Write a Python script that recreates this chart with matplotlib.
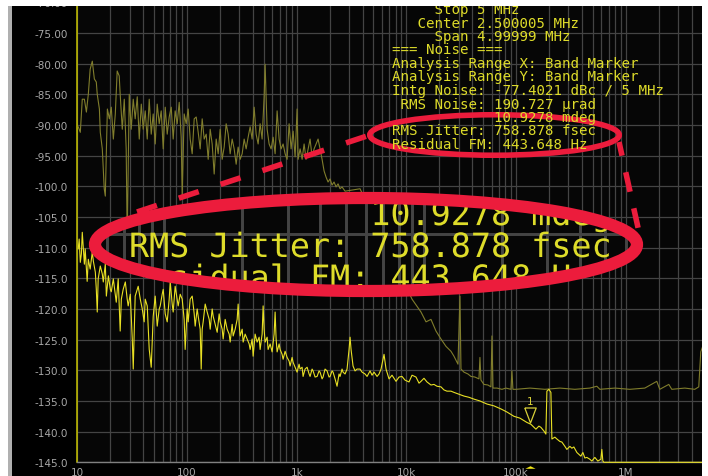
import matplotlib
matplotlib.use('Agg')
import matplotlib.pyplot as plt
from matplotlib.patches import Ellipse, Rectangle, PathPatch
from matplotlib.ticker import FixedLocator, LogLocator, NullFormatter
from matplotlib.textpath import TextPath
from matplotlib.font_manager import FontProperties
import matplotlib.transforms as mtransforms
import numpy as np

plt.rcParams['lines.scale_dashes'] = False

# ---------------- data ----------------
x_ticks = [10, 100, 1e3, 1e4, 1e5, 1e6]
x_tick_labels = ['10', '100', '1k', '10k', '100k', '1M']
y_ticks = [-145, -140, -135, -130, -125, -120, -115, -110, -105, -100,
           -95, -90, -85, -80, -75, -70]
y_tick_labels = ['-145.0', '-140.0', '-135.0', '-130.0', '-125.0', '-120.0',
                 '-115.0', '-110.0', '-105.0', '-100.0', '-95.00', '-90.00',
                 '-85.00', '-80.00', '-75.00', '-70.00']

# dim (reference) trace: (frequency Hz, dBc/Hz)
dim_points = [
    (10.2, -90.3), (10.65, -91.2), (11.1, -85.8), (11.6, -85.8), (12.1, -87.9),
    (12.6, -85.0), (13.1, -80.9), (13.7, -79.6), (14.3, -82.5), (14.9, -83.0),
    (15.2, -85.0), (15.9, -87.4), (16.2, -91.2), (16.9, -93.9), (17.6, -100.4),
    (18.0, -101.6), (18.8, -87.4), (19.6, -89.0), (20.4, -87.1), (21.3, -92.3),
    (22.2, -88.2), (23.1, -81.2), (24.1, -82.0), (24.6, -85.0), (25.7, -90.7),
    (26.8, -85.8), (27.9, -93.9), (28.5, -108.6), (29.75, -85.0), (31.0, -90.7),
    (32.35, -85.8), (33.7, -89.0), (35.2, -85.4), (36.7, -92.3), (38.3, -86.6),
    (39.9, -90.7), (41.6, -87.7), (43.4, -92.3), (45.25, -85.8), (47.2, -91.5),
    (49.2, -88.2), (51.3, -93.1), (53.5, -86.6), (55.8, -89.8), (58.2, -87.7),
    (60.7, -93.9), (63.3, -87.1), (66.0, -91.5), (68.8, -88.7), (71.8, -87.1),
    (74.8, -92.3), (78.0, -87.7), (81.4, -89.8), (84.9, -86.3), (88.5, -92.0),
    (90.4, -101.6), (94.2, -88.2), (98.3, -89.8), (102.5, -87.4), (106.9, -92.3),
    (111.5, -94.7), (116.3, -89.0), (121.3, -88.7), (126.5, -91.2), (131.9, -93.9),
    (137.5, -89.0), (143.4, -92.3), (149.6, -91.5), (156.0, -95.6), (162.7, -90.7),
    (169.6, -93.1), (176.9, -98.0), (184.5, -92.3), (192.4, -94.7), (200.6, -90.7),
    (209.2, -95.6), (218.2, -93.6), (227.5, -89.8), (237.3, -91.5), (247.4, -94.7),
    (258.0, -92.3), (269.1, -93.9), (280.6, -96.4), (292.6, -93.6), (305.1, -95.6),
    (318.2, -94.7), (331.8, -92.3), (346.0, -93.9), (360.8, -92.0), (376.3, -90.3),
    (392.4, -92.3), (409.2, -87.1), (426.7, -91.5), (445.0, -93.1), (464.0, -89.8),
    (483.9, -92.3), (504.6, -85.4), (515.3, -80.1), (537.4, -90.7), (560.4, -93.1),
    (584.4, -93.9), (609.5, -92.0), (635.6, -94.7), (662.8, -87.7), (691.2, -92.3),
    (720.8, -93.9), (751.7, -93.1), (783.9, -94.7), (817.5, -95.6), (852.5, -89.8),
    (889.0, -93.9), (927.1, -91.0), (966.9, -95.2), (1008, -87.4), (1030, -95.6),
    (1074, -93.9), (1120, -95.6), (1168, -93.1), (1218, -95.6), (1270, -93.9),
    (1324, -92.3), (1381, -95.2), (1440, -93.9), (1502, -93.1), (1566, -92.3),
    (1633, -93.9), (1703, -95.6), (1776, -97.5), (1852, -98.5), (1931, -99.3),
    (2014, -98.8), (2100, -99.8), (2190, -99.3), (2284, -100.1), (2382, -99.6),
    (2484, -100.4), (2590, -100.1), (2759, -100.8), (3778, -100.4),
    (11250, -118.4), (13580, -120.5), (15090, -122.1), (16750, -121.7),
    (18600, -123.6), (20660, -124.9), (22950, -126.1), (25480, -126.9),
    (27130, -127.7), (29510, -129.0), (30780, -117.9), (31430, -129.8),
    (33460, -130.3), (36390, -130.6), (38770, -131.0), (42140, -131.1),
    (45840, -131.4), (46810, -127.9), (47800, -131.6), (50900, -132.3),
    (55380, -132.4), (58950, -132.7), (60230, -124.4), (61500, -132.9),
    (66890, -132.9), (74270, -133.1), (80760, -132.9), (89700, -133.1),
    (91580, -130.1), (93500, -133.1), (99590, -133.1), (133600, -132.9),
    (182900, -133.1), (250600, -132.9), (343200, -133.1), (470000, -132.9),
    (544400, -132.6), (579800, -133.1), (794000, -132.9), (1088000, -133.1),
    (1490000, -132.9), (1916000, -131.8), (2040000, -133.1), (2464000, -132.3),
    (2624000, -133.1), (3446000, -132.9), (4251000, -133.1), (4623000, -132.7),
    (4821000, -127.0), (5000000, -126.2),
]

# bright (measured) trace: (frequency Hz, dBc/Hz)
bright_points = [
    (10.2, -110.2), (10.4, -108.6), (10.65, -112.4), (10.9, -111.0), (11.1, -107.5),
    (11.3, -109.7), (11.6, -112.7), (11.8, -110.2), (12.3, -115.5), (12.6, -111.9),
    (13.1, -113.5), (13.7, -110.7), (14.0, -112.2), (14.6, -114.0), (14.9, -116.8),
    (15.2, -120.5), (15.5, -115.1), (16.2, -113.0), (16.9, -114.3), (17.25, -115.6),
    (18.0, -112.7), (18.4, -117.9), (19.2, -114.6), (20.0, -116.8), (20.4, -117.2),
    (21.3, -115.1), (22.2, -117.6), (22.65, -118.9), (23.6, -115.1), (24.6, -123.6),
    (25.2, -118.4), (26.2, -116.8), (27.4, -115.6), (28.5, -118.4), (29.1, -119.5),
    (30.4, -117.6), (31.7, -124.9), (32.35, -129.8), (33.7, -117.9), (35.2, -116.8),
    (35.9, -116.3), (37.5, -118.4), (39.1, -120.0), (40.7, -122.1), (41.6, -118.4),
    (43.4, -119.5), (45.25, -126.6), (47.2, -129.5), (49.2, -121.2), (51.3, -117.9),
    (53.5, -122.8), (55.8, -120.0), (57.0, -119.5), (59.4, -117.6), (60.7, -116.8),
    (63.3, -120.8), (66.0, -122.1), (68.8, -118.4), (70.3, -115.6), (73.3, -119.2),
    (74.8, -120.5), (78.0, -116.3), (81.4, -118.4), (83.1, -119.5), (86.7, -117.6),
    (90.4, -118.4), (94.2, -121.7), (96.2, -126.6), (100.4, -120.0), (102.5, -122.1),
    (106.9, -118.4), (111.5, -117.9), (116.3, -120.8), (118.7, -122.8), (123.8, -120.0),
    (126.5, -121.2), (131.9, -123.3), (134.7, -129.8), (137.5, -123.3), (140.4, -122.1),
    (146.5, -119.2), (152.7, -120.5), (159.3, -121.7), (162.7, -123.3), (169.6, -120.0),
    (173.2, -121.2), (180.6, -122.5), (188.4, -123.8), (196.4, -120.8), (200.6, -122.1),
    (209.2, -123.3), (213.6, -124.9), (222.8, -121.7), (232.3, -123.3), (242.3, -124.1),
    (247.4, -125.4), (258.0, -122.5), (263.5, -124.4), (274.8, -123.3), (286.5, -121.7),
    (292.6, -119.2), (298.8, -122.5), (305.1, -124.4), (318.2, -123.3), (324.9, -125.4),
    (338.8, -124.1), (353.3, -124.9), (368.5, -125.7), (376.3, -126.6), (392.4, -124.9),
    (400.7, -127.7), (417.8, -124.1), (435.7, -125.4), (454.4, -124.6), (464.0, -126.6),
    (483.9, -124.1), (494.2, -119.5), (504.6, -123.3), (515.3, -125.4), (537.4, -124.6),
    (548.8, -126.6), (572.3, -125.7), (596.8, -127.0), (622.4, -124.1), (635.6, -120.5),
    (649.0, -124.9), (662.8, -127.0), (691.2, -125.7), (705.8, -126.6), (736.1, -127.4),
    (751.7, -128.2), (783.9, -126.9), (817.5, -127.9), (852.5, -128.5), (870.6, -129.3),
    (907.9, -127.9), (927.1, -128.7), (966.9, -129.5), (1008, -130.3), (1051, -129.0),
    (1074, -129.8), (1120, -129.5), (1143, -131.0), (1192, -129.8), (1244, -129.5),
    (1297, -130.6), (1324, -131.0), (1381, -129.8), (1410, -130.1), (1471, -131.1),
    (1534, -131.0), (1599, -130.1), (1633, -130.3), (1703, -131.4), (1739, -131.1),
    (1813, -129.8), (1891, -130.1), (1972, -131.1), (2014, -131.0), (2100, -130.1),
    (2145, -130.3), (2237, -131.4), (2332, -132.6), (2432, -130.6), (2484, -131.0),
    (2590, -129.8), (2645, -130.3), (2759, -130.6), (2877, -129.8), (3000, -126.6),
    (3064, -124.6), (3129, -126.6), (3262, -129.3), (3402, -130.1), (3548, -129.8),
    (3778, -129.8), (3940, -130.3), (4198, -130.6), (4377, -131.0), (4662, -130.1),
    (4862, -130.8), (5070, -130.3), (5399, -131.0), (5630, -130.6), (5871, -129.8),
    (6252, -127.4), (6520, -129.8), (6942, -131.4), (7393, -130.8), (8039, -131.8),
    (8561, -131.1), (9118, -131.0), (9711, -131.6), (10560, -131.9), (11250, -130.8),
    (12230, -131.1), (13030, -132.1), (13580, -131.8), (14460, -131.3), (15400, -131.9),
    (16750, -132.4), (17840, -132.3), (19000, -132.6), (20660, -132.7), (22000, -133.2),
    (23430, -133.4), (25480, -133.4), (27130, -133.6), (30140, -133.9), (33460, -134.2),
    (37160, -134.4), (41280, -134.7), (46810, -135.0), (54230, -135.5), (62810, -135.8),
    (72740, -136.3), (82480, -136.8), (95500, -137.5), (108300, -137.8), (125400, -138.5),
    (136400, -138.8), (151500, -139.6), (161300, -139.1), (168200, -139.3), (179200, -139.9),
    (186800, -140.4), (190800, -133.4), (199000, -133.1), (207500, -133.6), (211900, -141.2),
    (225600, -140.9), (235300, -141.2), (250600, -141.6), (261400, -141.7), (278400, -142.4),
    (290200, -142.9), (309000, -142.4), (322300, -142.7), (336000, -142.5), (358000, -143.4),
    (373300, -143.7), (389300, -144.0), (406000, -143.4), (423300, -144.3), (441400, -144.2),
    (470000, -144.5), (490100, -144.8), (522000, -144.2), (555900, -144.8), (592000, -144.5),
    (604600, -142.9), (617400, -144.8), (630400, -145.0), (714900, -145.0), (881800, -145.0),
    (1342000, -145.0), (2040000, -145.0), (3103000, -145.0), (5000000, -145.0),
]

marker_freq = 133600
marker_db = -138.45
marker_label = '1'

info_lines = [
    '     Stop 5 MHz',
    '   Center 2.500005 MHz',
    '     Span 4.99999 MHz',
    '=== Noise ===',
    'Analysis Range X: Band Marker',
    'Analysis Range Y: Band Marker',
    'Intg Noise: -77.4021 dBc / 5 MHz',
    ' RMS Noise: 190.727 \u00b5rad',
    '            10.9278 mdeg',
    'RMS Jitter: 758.878 fsec',
    'Residual FM: 443.648 Hz',
]
zoom_lines = info_lines[8:11]

# ---------------- style ----------------
W, H = 708, 477
YEL_TXT = '#dedc2a'
BRIGHT = '#e8e024'
DIM = '#807d2c'
RED = '#ec1c3c'
GRID = '#444444'
LBL = '#a8a8a8'
MONO = 'DejaVu Sans Mono'

AX_L, AX_R, AX_T, AX_B = 77.3, 702.5, 3.3, 463.3
F0, F1, V0, V1 = 10.0, 5e6, -145.0, -70.0

fig = plt.figure(figsize=(W / 100, H / 100), dpi=100, facecolor='black')

ax = fig.add_axes([AX_L / W, (H - AX_B) / H, (AX_R - AX_L) / W, (AX_B - AX_T) / H])
ax.set_facecolor('#060606')
ax.set_xscale('log')
ax.set_xlim(F0, F1)
ax.set_ylim(V0, V1)
ax.xaxis.set_major_locator(FixedLocator(x_ticks))
ax.xaxis.set_minor_locator(LogLocator(base=10, subs=np.arange(2, 10), numticks=100))
ax.xaxis.set_minor_formatter(NullFormatter())
ax.set_xticklabels(x_tick_labels)
ax.set_yticks(y_ticks)
ax.set_yticklabels(y_tick_labels)
ax.tick_params(which='both', length=0, colors=LBL, labelsize=7.5)
ax.tick_params(axis='x', pad=3.5)
ax.tick_params(axis='y', pad=7)
ax.grid(True, which='both', color=GRID, lw=0.9)
ax.set_axisbelow(True)
for s in ('top', 'right'):
    ax.spines[s].set_visible(False)
ax.spines['left'].set_color('#c8c400')
ax.spines['left'].set_linewidth(1.1)
ax.spines['bottom'].set_color('#808080')
ax.spines['bottom'].set_linewidth(1.0)

df, dv = zip(*dim_points)
bf, bv = zip(*bright_points)
ax.plot(df, dv, color=DIM, lw=0.8, zorder=3)
ax.plot(bf, bv, color=BRIGHT, lw=0.8, zorder=4, clip_on=False)

# band marker
tri_down = [(-0.38, 0.5), (0.38, 0.5), (0.0, -0.5), (-0.38, 0.5)]
off_up = mtransforms.ScaledTranslation(0, 7.5 / 100, fig.dpi_scale_trans)
ax.plot([marker_freq], [marker_db], marker=tri_down, ms=10.8, mfc='none',
        mec='#d8d038', mew=0.9, transform=ax.transData + off_up, zorder=5)
ax.annotate(marker_label, xy=(marker_freq, marker_db), xytext=(0, 15.3),
            textcoords='offset points', ha='center', va='center',
            fontsize=7.5, color='#d8d038', zorder=5)
tri_up = [(-1, -0.25), (1, -0.25), (0, 0.25), (-1, -0.25)]
off_dn = mtransforms.ScaledTranslation(0, -4.3 / 100, fig.dpi_scale_trans)
ax.plot([marker_freq], [V0], marker=tri_up, ms=7.4, mfc='#f4e818', mec='#f4e818',
        mew=0, transform=ax.transData + off_dn, clip_on=False, zorder=6)

# ---------------- overlay 1: info text, small ellipse, dashes ----------------
ov1 = fig.add_axes([0, 0, 1, 1])
ov1.set_xlim(0, W)
ov1.set_ylim(H, 0)
ov1.axis('off')

X0, BASE0, LSP, FS = 391.5, 14.0, 13.5, 10.17
for i, line in enumerate(info_lines):
    ov1.text(X0, BASE0 + LSP * i, line, family=MONO, fontsize=FS, color=YEL_TXT,
             ha='left', va='baseline')

ov1.add_patch(Ellipse((494.5, 136.0), 249.5, 40.5, fill=False, ec=RED, lw=4.0))
ov1.plot([137, 367], [213, 137], color=RED, lw=4.0, dash_capstyle='butt',
         linestyle=(0, (15.1, 16.6)))
ov1.plot([619, 639], [143, 233], color=RED, lw=4.0, dash_capstyle='butt',
         linestyle=(4.3, (14.4, 12.2)))

# ---------------- inset: magnified view ----------------
S = 20.1 / 8.5            # magnification
BX0, BY0 = 129.0, 258.0   # big text origin (pixel) <-> small text origin
SX0, SY0 = X0, 135.5

def to_orig(Xp, Yp):
    return SX0 + (Xp - BX0) / S, SY0 + (Yp - BY0) / S

def px_to_data(xp, yp):
    lf = np.log10(F0) + (xp - AX_L) / (AX_R - AX_L) * (np.log10(F1) - np.log10(F0))
    v = V1 - (yp - AX_T) / (AX_B - AX_T) * (V1 - V0)
    return 10 ** lf, v

EC = (366.0, 245.5)
EW, EH = 542.0, 93.0
ix0, ix1 = EC[0] - EW / 2, EC[0] + EW / 2
iy0, iy1 = EC[1] - EH / 2, EC[1] + EH / 2

ax_in = fig.add_axes([ix0 / W, (H - iy1) / H, EW / W, EH / H])
ax_in.set_xscale('log')
fa, va_ = px_to_data(*to_orig(ix0, iy1))
fb, vb_ = px_to_data(*to_orig(ix1, iy0))
ax_in.set_xlim(fa, fb)
ax_in.set_ylim(va_, vb_)
ax_in.set_facecolor('#060606')
ax_in.xaxis.set_visible(False)
ax_in.yaxis.set_visible(False)
for s in ax_in.spines.values():
    s.set_visible(False)
clip_in = Ellipse((0.5, 0.5), 1.0, 1.0, transform=ax_in.transAxes)
ax_in.patch.set_clip_path(clip_in)
grid_f = [m * 10 ** k for k in range(1, 7) for m in range(1, 10)]
for f in grid_f:
    if fa < f < fb:
        ln = ax_in.axvline(f, color=GRID, lw=0.9 * S)
        ln.set_clip_path(clip_in)
for v in y_ticks:
    if vb_ > v > va_:
        ln = ax_in.axhline(v, color=GRID, lw=0.9 * S)
        ln.set_clip_path(clip_in)

# ---------------- overlay 2: big text, big ellipse, borders ----------------
ov2 = fig.add_axes([0, 0, 1, 1])
ov2.set_xlim(0, W)
ov2.set_ylim(H, 0)
ov2.axis('off')

clip_big = Ellipse(EC, EW, EH, transform=ov2.transData)
big_px = FS * S * 100 / 72
fp = FontProperties(family=MONO)
for j, line in enumerate(zoom_lines):
    tp = TextPath((0, 0), line, size=big_px, prop=fp)
    tr = (mtransforms.Affine2D().scale(1, -1)
          .translate(BX0, BY0 + (j - 1) * LSP * S) + ov2.transData)
    pp = PathPatch(tp, transform=tr, fc=YEL_TXT, ec='none', lw=0)
    ov2.add_patch(pp)
    pp.set_clip_path(clip_big)

ov2.add_patch(Ellipse(EC, EW, EH, fill=False, ec=RED, lw=8.8))

ov2.add_patch(Rectangle((0, 0), W, 7.0, fc='white', ec='none', clip_on=False))
ov2.add_patch(Rectangle((0, 0), 8.3, H, fc='white', ec='none', clip_on=False))
ov2.add_patch(Rectangle((8.3, 7.0), 3.4, H, fc='#b0b0b0', ec='none', clip_on=False))
ov2.add_patch(Rectangle((702.0, 0), 6.0, H, fc='white', ec='none', clip_on=False))

fig.savefig('out.png', dpi=100, facecolor='black')
